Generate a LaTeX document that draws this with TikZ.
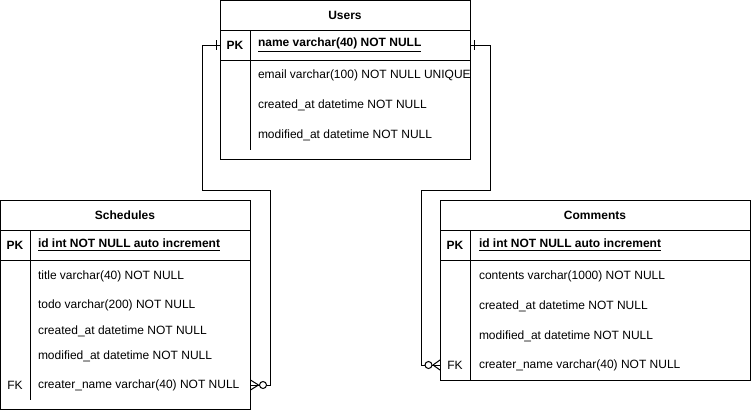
\documentclass[tikz,border=0pt]{standalone}
\usepackage{fontspec}
\setmainfont{Liberation Sans}
\usetikzlibrary{calc}
\begin{document}
\begin{tikzpicture}[x=0.75pt,y=-0.75pt,
  every node/.style={inner sep=0pt,outer sep=0pt,font=\fontsize{9}{11}\selectfont},
  tbl/.style={draw,line width=0.75pt,anchor=north west},
  hdr/.style={font=\fontsize{9}{11}\selectfont\bfseries},
  fld/.style={anchor=west},
  key/.style={anchor=center},
  rule/.style={line width=0.75pt},
  conn/.style={line width=0.75pt},
  endmark/.style={line width=0.75pt}]
\useasboundingbox (0,0) rectangle (751,411);

% ---------------- Users ----------------
\node[tbl,minimum width=187.5pt,minimum height=119.25pt] (users) at (220,0.5) {};
\node[hdr] (uh) at (345,15) {Users};
\draw[rule] (220,30) -- (470,30) (220,60) -- (470,60) (250,30) -- (250,150);
\node[key,font=\fontsize{9}{11}\selectfont\bfseries] (upkk) at (235,45) {PK};
\node[fld,font=\fontsize{9}{11}\selectfont\bfseries] (upk) at (258,45) {\underline{name varchar(40) NOT NULL}};
\node[fld] (u1) at (258,75) {email varchar(100) NOT NULL UNIQUE};
\node[fld] (u2) at (258,105) {created\_at datetime NOT NULL};
\node[fld] (u3) at (258,135) {modified\_at datetime NOT NULL};

% ---------------- Schedules ----------------
\node[tbl,minimum width=187.5pt,minimum height=156.75pt] (sch) at (0.5,200) {};
\node[hdr] (sh) at (125,215) {Schedules};
\draw[rule] (0.5,230) -- (250.5,230) (0.5,260) -- (250.5,260) (30,230) -- (30,400);
\node[key,font=\fontsize{9}{11}\selectfont\bfseries] (spkk) at (15,245) {PK};
\node[fld,font=\fontsize{9}{11}\selectfont\bfseries] (spk) at (38,245) {\underline{id int NOT NULL auto increment}};
\node[fld] (s1) at (38,276) {title varchar(40) NOT NULL};
\node[fld] (s2) at (38,305) {todo varchar(200) NOT NULL};
\node[fld] (s3) at (38,331) {created\_at datetime NOT NULL};
\node[fld] (s4) at (38,356) {modified\_at datetime NOT NULL};
\node[key] (sfkk) at (15,385) {FK};
\node[fld] (sfk) at (38,385) {creater\_name varchar(40) NOT NULL};

% ---------------- Comments ----------------
\node[tbl,minimum width=232.5pt,minimum height=135pt] (com) at (440,200) {};
\node[hdr] (ch) at (595,215) {Comments};
\draw[rule] (440,230) -- (750,230) (440,260) -- (750,260) (470,230) -- (470,380);
\node[key,font=\fontsize{9}{11}\selectfont\bfseries] (cpkk) at (455,245) {PK};
\node[fld,font=\fontsize{9}{11}\selectfont\bfseries] (cpk) at (479,245) {\underline{id int NOT NULL auto increment}};
\node[fld] (c1) at (479,276) {contents varchar(1000) NOT NULL};
\node[fld] (c2) at (479,306) {created\_at datetime NOT NULL};
\node[fld] (c3) at (479,336) {modified\_at datetime NOT NULL};
\node[key] (cfkk) at (455,365) {FK};
\node[fld] (cfk) at (479,365) {creater\_name varchar(40) NOT NULL};

% ---------------- connectors ----------------
\coordinate (b1) at (202,190);
\coordinate (b2) at (270,190);
\coordinate (b3) at (490,190);
\coordinate (b4) at (421,190);

\draw[conn] (users.west |- upk) -| (b1) -- (b2) |- (sch.east |- sfk);
\draw[conn] (users.east |- upk) -| (b3) -- (b4) |- (com.west |- cfk);

% one-bar marks at Users
\draw[endmark] ($(users.west |- upk)+(-4,-5)$) -- ++(0,10);
\draw[endmark] ($(users.east |- upk)+(4,-5)$) -- ++(0,10);

% zero-to-many at Schedules
\draw[endmark] ($(sch.east |- sfk)+(8,0)$) -- ++(-8,-5)
            ($(sch.east |- sfk)+(8,0)$) -- ++(-8,5);
\draw[endmark,fill=white] ($(sch.east |- sfk)+(12.5,0)$) circle[radius=3.5];

% zero-to-many at Comments
\draw[endmark] ($(com.west |- cfk)+(-7,0)$) -- ++(7,-5)
            ($(com.west |- cfk)+(-7,0)$) -- ++(7,5);
\draw[endmark,fill=white] ($(com.west |- cfk)+(-11.5,0)$) circle[radius=3.5];
\end{tikzpicture}
\end{document}
